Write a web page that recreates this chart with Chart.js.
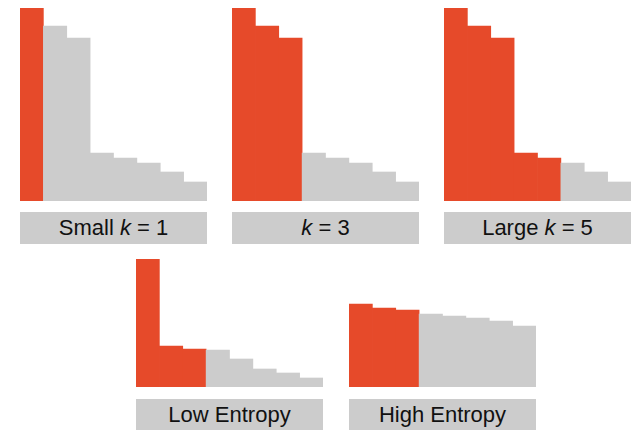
<!DOCTYPE html>
<html>
<head>
<meta charset="utf-8">
<script src="https://cdn.jsdelivr.net/npm/chart.js@4/dist/chart.umd.min.js"></script>
<style>
  html, body { margin: 0; padding: 0; background: #ffffff; }
  body { width: 634px; height: 430px; position: relative; overflow: hidden; }
  .wrap { position: absolute; }
  .lbl { position: absolute; background: #cccccc; color: #111111; text-align: center;
         font-family: "Liberation Sans", Arial, Helvetica, sans-serif; font-size: 22px; white-space: nowrap; }
</style>
</head>
<body>
<script>
// ---- data (bar heights, arbitrary units) ----
const ranks = ["1", "2", "3", "4", "5", "6", "7", "8"];
const topRowValues = [193, 175, 163, 48, 43, 38, 29, 19];
const lowEntropyValues = [128, 41, 38, 37, 28, 18, 14, 9];
const highEntropyValues = [83, 79, 77, 73, 71, 69, 66, 61];
const topRowMax = 193;
const bottomRowMax = 128;
const selectedSmall = 1;
const selectedMid = 3;
const selectedLarge = 5;
const selectedLow = 3;
const selectedHigh = 3;
const labelSmall = 'Small <i>k</i> = 1';
const labelMid = '<i>k</i> = 3';
const labelLarge = 'Large <i>k</i> = 5';
const labelLow = 'Low Entropy';
const labelHigh = 'High Entropy';

const RED = '#e64a2a';
const GRAY = '#cccccc';

const panels = [
  { values: topRowValues, sel: selectedSmall, max: topRowMax, label: labelSmall,
    x: 20, y: 8, w: 187, h: 193, ly: 212, lh: 32 },
  { values: topRowValues, sel: selectedMid, max: topRowMax, label: labelMid,
    x: 232, y: 8, w: 187, h: 193, ly: 212, lh: 32 },
  { values: topRowValues, sel: selectedLarge, max: topRowMax, label: labelLarge,
    x: 444, y: 8, w: 187, h: 193, ly: 212, lh: 32 },
  { values: lowEntropyValues, sel: selectedLow, max: bottomRowMax, label: labelLow,
    x: 136, y: 259, w: 187, h: 128, ly: 399, lh: 31 },
  { values: highEntropyValues, sel: selectedHigh, max: bottomRowMax, label: labelHigh,
    x: 349, y: 259, w: 187, h: 128, ly: 399, lh: 31 }
];

panels.forEach(p => {
  const wrap = document.createElement('div');
  wrap.className = 'wrap';
  wrap.style.left = p.x + 'px';
  wrap.style.top = p.y + 'px';
  wrap.style.width = p.w + 'px';
  wrap.style.height = p.h + 'px';
  const cv = document.createElement('canvas');
  cv.width = p.w; cv.height = p.h;
  cv.style.width = p.w + 'px'; cv.style.height = p.h + 'px';
  wrap.appendChild(cv);
  document.body.appendChild(wrap);

  const lbl = document.createElement('div');
  lbl.className = 'lbl';
  lbl.style.left = p.x + 'px';
  lbl.style.top = p.ly + 'px';
  lbl.style.width = p.w + 'px';
  lbl.style.height = p.lh + 'px';
  lbl.style.lineHeight = p.lh + 'px';
  lbl.innerHTML = p.label;
  document.body.appendChild(lbl);

  new Chart(cv.getContext('2d'), {
    type: 'bar',
    data: {
      labels: ranks,
      datasets: [{
        data: p.values,
        backgroundColor: p.values.map((v, i) => i < p.sel ? RED : GRAY),
        borderWidth: 0,
        barPercentage: 1.0,
        categoryPercentage: 1.0
      }]
    },
    options: {
      responsive: false,
      animation: false,
      devicePixelRatio: 1,
      layout: { padding: 0 },
      plugins: { legend: { display: false }, tooltip: { enabled: false } },
      scales: {
        x: { display: false, offset: true },
        y: { display: false, min: 0, max: p.max }
      }
    }
  });
});
</script>
</body>
</html>
